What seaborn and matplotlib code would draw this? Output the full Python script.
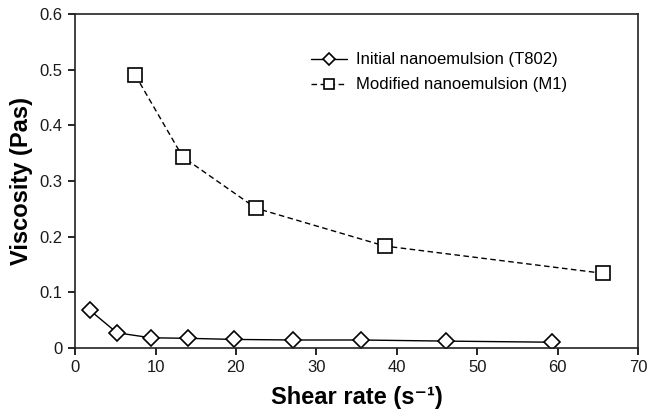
import numpy as np
import pandas as pd
import seaborn as sns
import matplotlib.pyplot as plt

# values
initial_shear = [1.8, 5.2, 9.4, 14.0, 19.8, 27.1, 35.5, 46.1, 59.3]
initial_visc = [0.068, 0.027, 0.018, 0.017, 0.015, 0.014, 0.014, 0.012, 0.010]
modified_shear = [7.5, 13.4, 22.5, 38.5, 65.6]
modified_visc = [0.490, 0.343, 0.251, 0.183, 0.134]

x_ticks = [0, 10, 20, 30, 40, 50, 60, 70]
y_ticks = [0, 0.1, 0.2, 0.3, 0.4, 0.5, 0.6]
y_tick_labels = ["0", "0.1", "0.2", "0.3", "0.4", "0.5", "0.6"]

sns.set_style("ticks")
plt.rcParams['font.family'] = ['Liberation Sans', 'DejaVu Sans']
plt.rcParams['text.color'] = 'black'
plt.rcParams['axes.labelcolor'] = 'black'

df_init = pd.DataFrame({"shear": initial_shear, "visc": initial_visc})
df_mod = pd.DataFrame({"shear": modified_shear, "visc": modified_visc})

fig = plt.figure(figsize=(6.53, 4.16), dpi=100)
ax = fig.add_axes([0.115, 0.164, 0.862, 0.802])

sns.lineplot(data=df_init, x="shear", y="visc", ax=ax, color="black", lw=1.0,
             marker="D", markersize=8, markerfacecolor="white",
             markeredgecolor="black", markeredgewidth=1.2,
             label="Initial nanoemulsion (T802)")
sns.lineplot(data=df_mod, x="shear", y="visc", ax=ax, color="black", lw=1.0,
             linestyle=(0, (4, 2.5)), marker="s", markersize=10,
             markerfacecolor="white", markeredgecolor="black",
             markeredgewidth=1.2, label="Modified nanoemulsion (M1)")

ax.set_xlim(0, 70)
ax.set_ylim(0, 0.6)
ax.set_xticks(x_ticks)
ax.set_yticks(y_ticks)
ax.set_yticklabels(y_tick_labels)
ax.tick_params(axis="both", direction="out", length=5, width=1.2,
               labelsize=12, colors="black", pad=4)
ax.tick_params(labelcolor="#1a1a1a")

for s in ax.spines.values():
    s.set_visible(True)
    s.set_linewidth(1.2)
    s.set_color("#222222")

label_font = {'family': ['Liberation Sans', 'DejaVu Sans'],
              'weight': 'bold', 'size': 17, 'color': 'black'}
ax.set_xlabel("Shear rate (s\u207b\u00b9)", fontdict=label_font, labelpad=8)
ax.set_ylabel("Viscosity (Pas)", fontdict=label_font, labelpad=5)

leg = ax.legend(loc="upper right", bbox_to_anchor=(0.9, 0.93), frameon=False,
                fontsize=12, handlelength=2.2, handletextpad=0.5,
                labelspacing=0.6, markerscale=0.75)

fig.savefig("out.png", dpi=100)
